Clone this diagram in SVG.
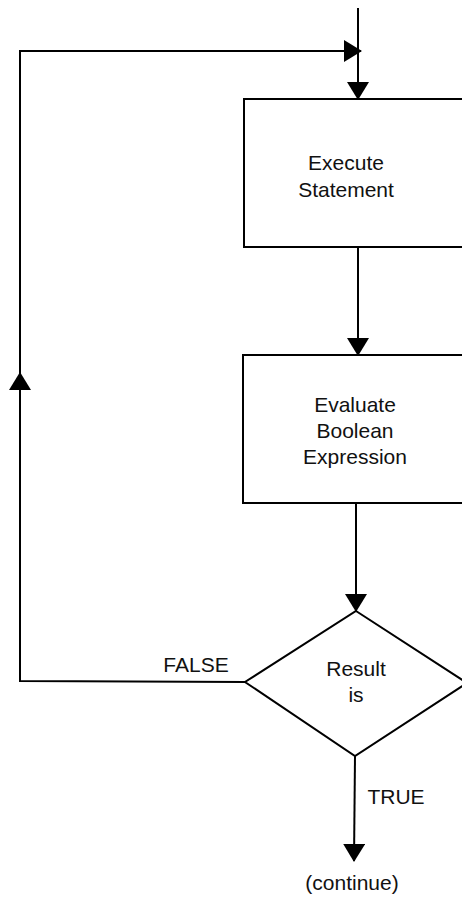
<svg xmlns="http://www.w3.org/2000/svg" width="462" height="897" viewBox="0 0 462 897">
<defs>
<style>
.ln{fill:none;stroke:#000;stroke-width:2}
.nd{fill:#fff;stroke:#000;stroke-width:2}
.t{font-family:"Liberation Sans",Arial,sans-serif;font-size:21px;fill:#111;text-anchor:middle}
</style>
<marker id="ah" markerUnits="userSpaceOnUse" markerWidth="18" markerHeight="22" refX="17" refY="11" orient="auto" viewBox="0 0 18 22">
<path d="M0,0 L18,11 L0,22 Z" fill="#000"/>
</marker>
</defs>
<rect width="462" height="897" fill="#fff"/>
<g id="connectors">
<line class="ln" x1="358" y1="8" x2="358" y2="99" marker-end="url(#ah)"/>
<polyline class="ln" points="245,682 20,681 20,51 361,51" marker-end="url(#ah)"/>
<line class="ln" x1="20" y1="682" x2="20" y2="373" marker-end="url(#ah)"/>
<line class="ln" x1="358" y1="248" x2="358" y2="355" marker-end="url(#ah)"/>
<line class="ln" x1="356" y1="504" x2="356" y2="611" marker-end="url(#ah)"/>
<line class="ln" x1="355" y1="756" x2="354" y2="861" marker-end="url(#ah)"/>
<text class="t" x="196" y="672">FALSE</text>
<text class="t" x="396" y="804">TRUE</text>
</g>
<g id="execute">
<rect class="nd" x="244" y="99" width="240" height="148"/>
<text class="t" x="346" y="170">Execute</text>
<text class="t" x="346" y="197">Statement</text>
</g>
<g id="evaluate">
<rect class="nd" x="243" y="355" width="240" height="148"/>
<text class="t" x="355" y="412">Evaluate</text>
<text class="t" x="355" y="438">Boolean</text>
<text class="t" x="355" y="464">Expression</text>
</g>
<g id="decision">
<polygon class="nd" points="356,611 467,683 355,756 245,682"/>
<text class="t" x="356" y="676">Result</text>
<text class="t" x="356" y="702">is</text>
</g>
<g id="continue">
<text class="t" x="352" y="890">(continue)</text>
</g>
</svg>
